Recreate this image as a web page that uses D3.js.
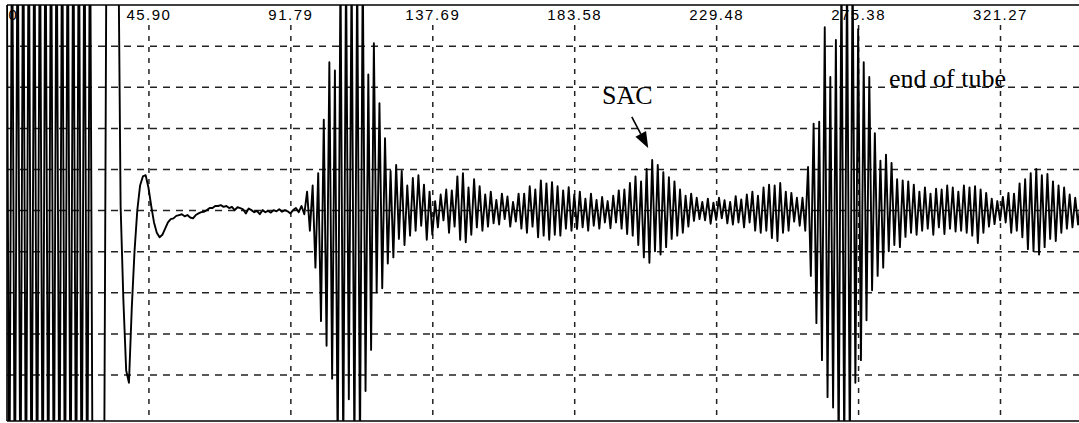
<!DOCTYPE html>
<html>
<head>
<meta charset="utf-8">
<script src="https://cdn.jsdelivr.net/npm/d3@7"></script>
<style>
  html, body { margin: 0; padding: 0; background: #fff; }
  svg { display: block; }
</style>
</head>
<body>
<svg id="chart" width="1079" height="423"></svg>
<script>
// A-scan trace: one amplitude value per sample, samples spaced sampleStep apart in time.
const sampleStep = 0.9;

// Transmit pulse (receiver saturated), then the recovery swing.
const mainBang = [
  8, -8, 8, -8, 8, -8, 8, -8, 8, -8,
  8, -8, 8, -8, 8, -8, 8, -8, 8, -8,
  8, -8, 8, -8, 8, -8, 8, -8, 8, -8,
  8, -8, -8, -8, -8, -8, 8, 8, 8, 8,
  8
];

const ringDown = [
  0.1, -2.2, -3.9, -4.2, -2.4, -1.0, 0.0, 0.6, 0.82, 0.85,
  0.55, 0.1, -0.3, -0.55, -0.66, -0.6, -0.45, -0.3, -0.22, -0.2,
  -0.14, -0.12, -0.1, -0.15, -0.12, -0.18, -0.2, -0.12, -0.08, -0.05,
  -0.04, 0.0, 0.05, 0.05, 0.1, 0.1, 0.12, 0.08, 0.1, 0.05,
  0.08, 0.0, 0.07, 0.05, 0.02, -0.08, 0.04, 0.0, -0.05, -0.02,
  -0.1, 0.0, -0.05, -0.02, -0.06, 0.0, -0.03, 0.02, -0.04, 0.0,
  -0.03, -0.08, 0.0, 0.05, -0.05
];

// Tube wall echo and its reverberation tail.
const wallEcho = [
  0.1, -0.1, 0.45, -0.5, 0.6, -1.4, 0.9, -2.7, 2.2, -3.3,
  3.6, -4.1, 3.4, -6, 6, -6, 6, -4.6, 6, -6,
  6, -6, 6, -4.4, 3.3, -3.4, 4.06, -2.0, 2.6, -1.9,
  1.75, -1.3, 0.95, -1.15, 1.1, -0.7, 0.95, -0.85, 0.6, -0.62,
  0.78, -0.5, 0.85, -0.38, 0.62, -0.72, 0.45, -0.6, 0.22, -0.42,
  0.38, -0.25, 0.5, -0.55, 0.48, -0.4, 0.82, -0.72, 0.9, -0.78,
  0.55, -0.6, 0.75, -0.42, 0.58, -0.5, 0.38, -0.4, 0.45, -0.32,
  0.25, -0.35, 0.4, -0.22, 0.33, -0.4, 0.2, -0.28, 0.4, -0.45,
  0.4, -0.55, 0.58, -0.4, 0.5, -0.66, 0.72, -0.62, 0.65, -0.72,
  0.68, -0.6, 0.58, -0.62, 0.48, -0.45, 0.56, -0.5, 0.38, -0.46
];

// Echo from the SAC indication.
const sacEcho = [
  0.45, -0.42, 0.28, -0.5, 0.4, -0.38, 0.25, -0.45, 0.32, -0.3,
  0.22, -0.44, 0.35, -0.3, 0.48, -0.45, 0.5, -0.58, 0.66, -0.62,
  0.82, -0.85, 0.7, -1.15, 1.0, -1.28, 1.22, -1.0, 1.1, -1.08,
  0.92, -0.9, 0.8, -0.7, 0.7, -0.62, 0.5, -0.55, 0.35, -0.4,
  0.4, -0.26, 0.3, -0.22, 0.2, -0.25, 0.28, -0.33, 0.18, -0.24,
  0.3, -0.2, 0.24, -0.32, 0.2, -0.35, 0.34, -0.3, 0.26, -0.42,
  0.38, -0.3, 0.45, -0.5, 0.35, -0.55, 0.55, -0.5, 0.62, -0.68,
  0.6, -0.75, 0.66, -0.55, 0.45, -0.5, 0.42, -0.28, 0.3, -0.38
];

// Echo from the end of the tube and the tail after it.
const tubeEndEcho = [
  0.3, -0.5, 1.05, -1.6, 2.1, -2.75, 2.15, -3.65, 4.45, -4.55,
  3.24, -4.8, 4.14, -6, 6, -6, 6, -6, 6, -4.2,
  4.4, -3.65, 3.6, -2.68, 3.24, -1.95, 1.87, -1.6, 1.2, -1.4,
  1.35, -1.0, 1.15, -0.85, 0.75, -0.9, 0.72, -0.65, 0.7, -0.55,
  0.62, -0.6, 0.45, -0.5, 0.55, -0.45, 0.4, -0.6, 0.52, -0.42,
  0.5, -0.58, 0.6, -0.45, 0.55, -0.52, 0.45, -0.5, 0.6, -0.55,
  0.55, -0.62, 0.58, -0.8, 0.5, -0.55, 0.42, -0.4, 0.28, -0.34,
  0.22, -0.25, 0.32, -0.3, 0.42, -0.55, 0.4, -0.5, 0.65, -0.66,
  0.75, -0.95, 0.9, -1.0, 1.0, -1.08, 0.85, -0.9, 0.88, -0.7,
  0.7, -0.75, 0.6, -0.55, 0.55, -0.45, 0.38, -0.42, 0.3, -0.35,
  0.2
];

// Time axis divisions and their printed labels.
const timeTicks = [0, 45.90, 91.79, 137.69, 183.58, 229.48, 275.38, 321.27];
const timeTickLabels = ["0", "45.90", "91.79", "137.69", "183.58", "229.48", "275.38", "321.27"];

// Amplitude divisions (screen grid).
const ampGrid = [-4, -3, -2, -1, 0, 1, 2, 3, 4];

// Annotations, placed in data units (time, amplitude).
const noteTexts = ["SAC", "end of tube"];
const noteTimes = [192.6, 285.4];
const noteAmps = [2.58, 2.99];
const arrowFrom = [202.2, 2.27];
const arrowTo = [207.5, 1.51];

// ---------------------------------------------------------------
const W = 1079, H = 423;
const plot = { left: 7, top: 5, right: 1079, bottom: 421 };

const svg = d3.select("#chart");

const x = d3.scaleLinear().domain([0, 321.27]).range([6.5, 1000]);
const y = d3.scaleLinear().domain([-5.13, 4.99]).range([plot.bottom, plot.top]);

svg.append("rect").attr("width", W).attr("height", H).attr("fill", "#fff");

svg.append("clipPath").attr("id", "plotClip")
  .append("rect")
  .attr("x", plot.left).attr("y", plot.top)
  .attr("width", plot.right - plot.left).attr("height", plot.bottom - plot.top);

// Horizontal dashed grid
const yAxis = d3.axisLeft(y)
  .tickValues(ampGrid)
  .tickFormat("")
  .tickSizeInner(-(plot.right - plot.left))
  .tickSizeOuter(0);
const gy = svg.append("g").attr("transform", `translate(${plot.left},0)`).call(yAxis);
gy.select(".domain").remove();
gy.selectAll(".tick line")
  .attr("stroke", "#222")
  .attr("stroke-width", 1.5)
  .attr("stroke-dasharray", "7,6");

// Vertical dashed grid with the time labels above it
const labelBase = 25;
const xAxis = d3.axisTop(x)
  .tickValues(timeTicks.slice(1))
  .tickFormat((d) => timeTickLabels[timeTicks.indexOf(d)])
  .tickSizeInner(-(plot.bottom - labelBase))
  .tickSizeOuter(0)
  .tickPadding(5);
const gx = svg.append("g").attr("transform", `translate(0,${labelBase})`).call(xAxis);
gx.select(".domain").remove();
gx.selectAll(".tick line")
  .attr("stroke", "#222")
  .attr("stroke-width", 1.5)
  .attr("stroke-dasharray", "5,6");
gx.selectAll(".tick text")
  .attr("fill", "#000")
  .style("font-family", "'Liberation Sans', Arial, sans-serif")
  .style("font-size", "15px")
  .style("letter-spacing", "1.5px");

// Origin label sits just inside the left edge
svg.append("text")
  .attr("x", x(timeTicks[0]) + 2)
  .attr("y", labelBase - 5)
  .attr("fill", "#000")
  .style("font-family", "'Liberation Sans', Arial, sans-serif")
  .style("font-size", "15px")
  .text(timeTickLabels[0]);

// Waveform
const samples = [].concat(mainBang, ringDown, wallEcho, sacEcho, tubeEndEcho)
  .map((v, i) => [i * sampleStep, v]);

const line = d3.line()
  .x((d) => x(d[0]))
  .y((d) => y(d[1]));

svg.append("path")
  .datum(samples)
  .attr("clip-path", "url(#plotClip)")
  .attr("d", line)
  .attr("fill", "none")
  .attr("stroke", "#000")
  .attr("stroke-width", 1.9)
  .attr("stroke-linejoin", "round");

// Frame: top, left and bottom edges
const frame = svg.append("g").attr("stroke", "#000").attr("stroke-width", 1.6);
frame.append("line").attr("x1", plot.left).attr("x2", plot.right).attr("y1", plot.top).attr("y2", plot.top);
frame.append("line").attr("x1", plot.left).attr("x2", plot.left).attr("y1", plot.top).attr("y2", plot.bottom);
frame.append("line").attr("x1", plot.left).attr("x2", plot.right).attr("y1", plot.bottom).attr("y2", plot.bottom);

// Annotations
svg.selectAll("text.note")
  .data(noteTexts)
  .join("text")
  .attr("class", "note")
  .attr("x", (d, i) => x(noteTimes[i]))
  .attr("y", (d, i) => y(noteAmps[i]))
  .attr("fill", "#000")
  .style("font-family", "'Liberation Serif', 'Times New Roman', serif")
  .style("font-size", "26px")
  .text((d) => d);

const ax0 = x(arrowFrom[0]), ay0 = y(arrowFrom[1]);
const ax1 = x(arrowTo[0]), ay1 = y(arrowTo[1]);
const ang = Math.atan2(ay1 - ay0, ax1 - ax0);
const headLen = 16, headHalf = 6;
const bx = ax1 - headLen * Math.cos(ang), by = ay1 - headLen * Math.sin(ang);

svg.append("line")
  .attr("x1", ax0).attr("y1", ay0)
  .attr("x2", bx).attr("y2", by)
  .attr("stroke", "#000").attr("stroke-width", 1.6);

svg.append("path")
  .attr("d", d3.line()([
    [ax1, ay1],
    [bx + headHalf * Math.sin(ang), by - headHalf * Math.cos(ang)],
    [bx - headHalf * Math.sin(ang), by + headHalf * Math.cos(ang)]
  ]) + "Z")
  .attr("fill", "#000");
</script>
</body>
</html>
